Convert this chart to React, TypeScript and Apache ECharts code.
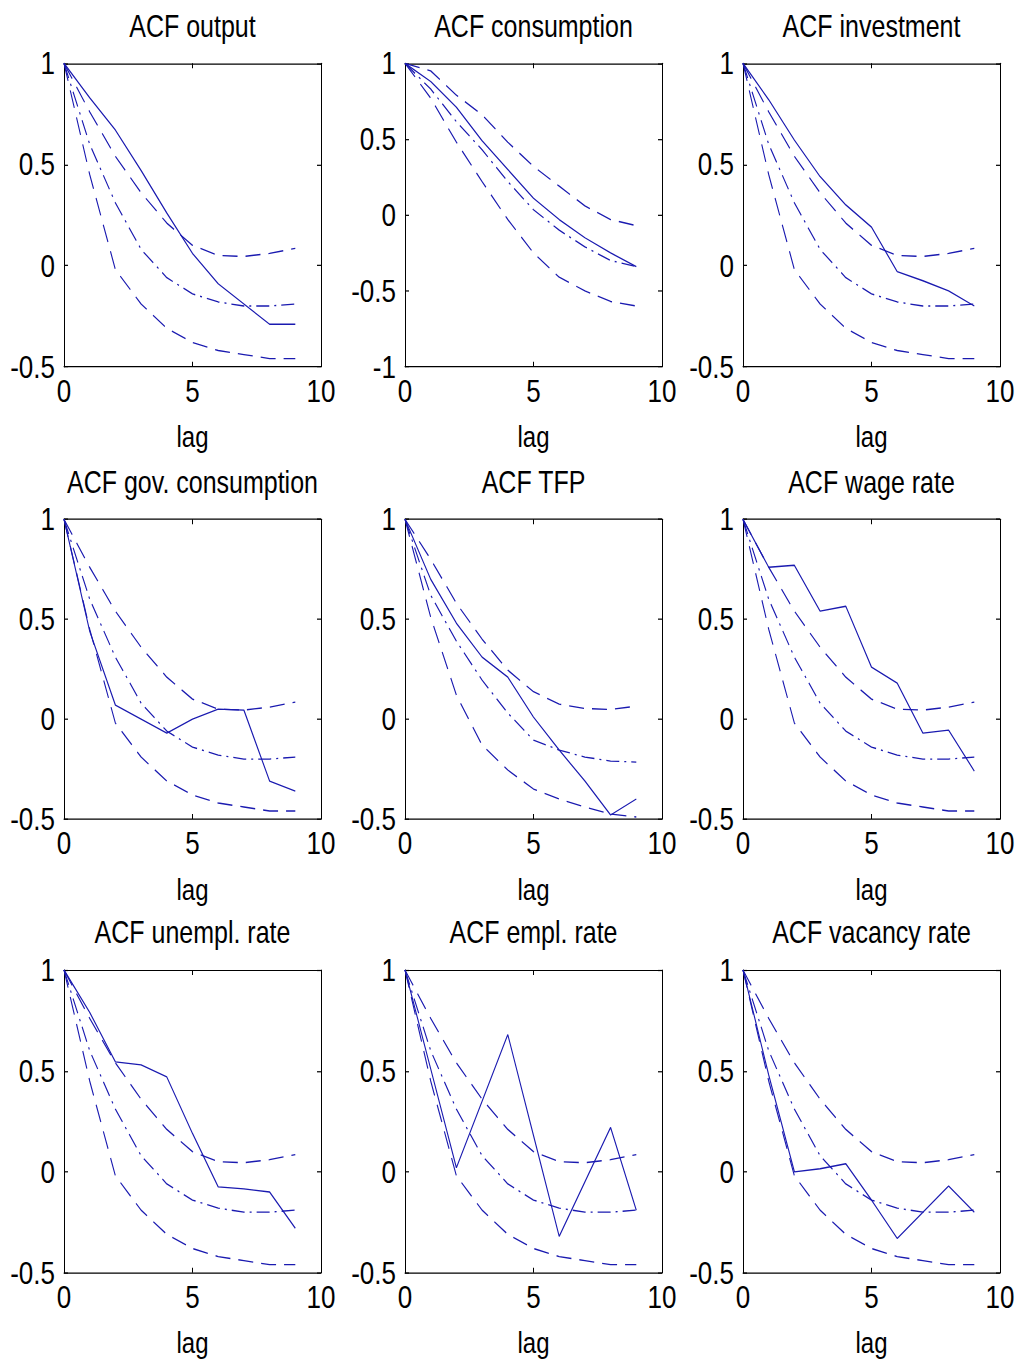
import React, { useEffect, useRef } from 'react';
import * as echarts from 'echarts';

const LAGS = [0, 1, 2, 3, 4, 5, 6, 7, 8, 9];
const X_TICKS = [0, 5, 10];
const Y_TICKS = [-0.5, 0, 0.5, 1];
const Y_TICKS_CONS = [-1, -0.5, 0, 0.5, 1];

const TITLES = [
  'ACF output', 'ACF consumption', 'ACF investment',
  'ACF gov. consumption', 'ACF TFP', 'ACF wage rate',
  'ACF unempl. rate', 'ACF empl. rate', 'ACF vacancy rate',
];

// data ACFs (solid)
const OUTPUT = [1, 0.83, 0.67, 0.47, 0.26, 0.06, -0.09, -0.19, -0.29, -0.29];
const CONSUMPTION = [1, 0.88, 0.71, 0.49, 0.30, 0.11, -0.03, -0.15, -0.25, -0.34];
const INVESTMENT = [1, 0.82, 0.62, 0.44, 0.30, 0.19, -0.03, -0.075, -0.125, -0.20];
const GOV = [1, 0.44, 0.07, 0.0, -0.07, 0.0, 0.05, 0.045, -0.31, -0.36];
const TFP = [1, 0.70, 0.48, 0.31, 0.21, 0.01, -0.155, -0.31, -0.48, -0.40];
const WAGE = [1, 0.76, 0.77, 0.54, 0.565, 0.26, 0.18, -0.07, -0.055, -0.26];
const UNEMPL = [1, 0.79, 0.545, 0.53, 0.47, 0.19, -0.075, -0.085, -0.10, -0.28];
const EMPL = [1, 0.51, 0.02, 0.35, 0.68, 0.18, -0.32, -0.05, 0.22, -0.19];
const VACANCY = [1, 0.48, 0.0, 0.015, 0.04, -0.14, -0.33, -0.2, -0.07, -0.2];

// model bands (dashed upper/lower, dash-dot median)
const UPPER = [1, 0.76, 0.54, 0.36, 0.21, 0.10, 0.05, 0.045, 0.06, 0.085];
const MEDIAN = [1, 0.6, 0.31, 0.08, -0.06, -0.14, -0.18, -0.2, -0.2, -0.19];
const LOWER = [1, 0.45, -0.02, -0.19, -0.31, -0.38, -0.42, -0.44, -0.46, -0.46];

const CONS_UPPER = [1, 0.95, 0.79, 0.66, 0.48, 0.32, 0.19, 0.06, -0.03, -0.07];
const CONS_MEDIAN = [1, 0.83, 0.615, 0.43, 0.22, 0.035, -0.10, -0.21, -0.30, -0.34];
const CONS_LOWER = [1, 0.77, 0.48, 0.22, -0.03, -0.25, -0.41, -0.50, -0.57, -0.60];

const TFP_UPPER = [1, 0.80, 0.58, 0.40, 0.245, 0.137, 0.075, 0.053, 0.048, 0.065];
const TFP_MEDIAN = [1, 0.62, 0.39, 0.195, 0.03, -0.105, -0.155, -0.19, -0.21, -0.215];
const TFP_LOWER = [1, 0.51, 0.12, -0.13, -0.255, -0.35, -0.40, -0.44, -0.475, -0.49];

const PANELS = [
  { solid: OUTPUT, up: UPPER, med: MEDIAN, lo: LOWER, ticks: Y_TICKS },
  { solid: CONSUMPTION, up: CONS_UPPER, med: CONS_MEDIAN, lo: CONS_LOWER, ticks: Y_TICKS_CONS },
  { solid: INVESTMENT, up: UPPER, med: MEDIAN, lo: LOWER, ticks: Y_TICKS },
  { solid: GOV, up: UPPER, med: MEDIAN, lo: LOWER, ticks: Y_TICKS },
  { solid: TFP, up: TFP_UPPER, med: TFP_MEDIAN, lo: TFP_LOWER, ticks: Y_TICKS },
  { solid: WAGE, up: UPPER, med: MEDIAN, lo: LOWER, ticks: Y_TICKS },
  { solid: UNEMPL, up: UPPER, med: MEDIAN, lo: LOWER, ticks: Y_TICKS },
  { solid: EMPL, up: UPPER, med: MEDIAN, lo: LOWER, ticks: Y_TICKS },
  { solid: VACANCY, up: UPPER, med: MEDIAN, lo: LOWER, ticks: Y_TICKS },
];

// The reference figure is stretched vertically; the chart is drawn in a
// shorter box and stretched with a CSS transform so its text is tall too.
const STRETCH = 1.22;
const PAGE_W = 1018;
const PAGE_H = 1364;
const COL_LEFT = [64, 405, 743];
const ROW_TOP = [63.3, 519.3, 970];
const BOX_W = 257;
const ROW_H = [303.4, 299.7, 302.7];

const FONT = '"Liberation Sans", Arial, sans-serif';
const FS_TICK = 26;
const FS_TITLE = 25;
const FS_NAME = 24;
const LINE = '#1a1ab0';

function pairs(v: number[]) {
  return LAGS.map((l, i) => [l, v[i]]);
}

export default function App() {
  const ref = useRef<HTMLDivElement>(null);
  useEffect(() => {
    if (!ref.current) return;
    const chart = echarts.init(ref.current, null, { renderer: 'svg' });
    const grid: any[] = [];
    const xAxis: any[] = [];
    const yAxis: any[] = [];
    const series: any[] = [];
    const graphic: any[] = [];
    const axisLine = { show: true, onZero: false, lineStyle: { color: '#000', width: 1 } };
    const axisTick = { show: true, inside: true, length: 4, lineStyle: { color: '#000', width: 1 } };
    PANELS.forEach((p, i) => {
      const r = Math.floor(i / 3);
      const c = i % 3;
      const left = COL_LEFT[c];
      const top = ROW_TOP[r] / STRETCH;
      const h = ROW_H[r] / STRETCH;
      grid.push({ left, top, width: BOX_W, height: h, containLabel: false, show: false });
      const xmin = X_TICKS[0];
      const xmax = X_TICKS[X_TICKS.length - 1];
      const xint = X_TICKS[1] - X_TICKS[0];
      const ymin = p.ticks[0];
      const ymax = p.ticks[p.ticks.length - 1];
      const yint = p.ticks[1] - p.ticks[0];
      xAxis.push({
        gridIndex: i, type: 'value', min: xmin, max: xmax, interval: xint, position: 'bottom',
        axisLine, axisTick, splitLine: { show: false },
        axisLabel: { color: '#000', fontSize: FS_TICK, fontFamily: FONT, margin: 7 },
        name: 'lag', nameLocation: 'middle', nameGap: 46,
        nameTextStyle: { color: '#000', fontSize: FS_NAME, fontFamily: FONT },
      });
      xAxis.push({
        gridIndex: i, type: 'value', min: xmin, max: xmax, interval: xint, position: 'top',
        axisLine, axisTick, splitLine: { show: false }, axisLabel: { show: false },
      });
      yAxis.push({
        gridIndex: i, type: 'value', min: ymin, max: ymax, interval: yint, position: 'left',
        axisLine, axisTick, splitLine: { show: false },
        axisLabel: { color: '#000', fontSize: FS_TICK, fontFamily: FONT, margin: 9 },
      });
      yAxis.push({
        gridIndex: i, type: 'value', min: ymin, max: ymax, interval: yint, position: 'right',
        axisLine, axisTick, splitLine: { show: false }, axisLabel: { show: false },
      });
      const base = {
        type: 'line', xAxisIndex: 2 * i, yAxisIndex: 2 * i, symbol: 'none', showSymbol: false,
        silent: true,
      };
      series.push({ ...base, data: pairs(p.up), lineStyle: { color: LINE, width: 1.1, type: [15, 8] } });
      series.push({ ...base, data: pairs(p.med), lineStyle: { color: LINE, width: 1.1, type: [13, 5, 2, 5] } });
      series.push({ ...base, data: pairs(p.lo), lineStyle: { color: LINE, width: 1.1, type: [15, 8] } });
      series.push({ ...base, data: pairs(p.solid), lineStyle: { color: LINE, width: 1.1, type: 'solid' } });
      graphic.push({
        type: 'text', x: left + BOX_W / 2, y: top - 30.3,
        style: {
          text: TITLES[i], textAlign: 'center', textVerticalAlign: 'middle',
          font: `${FS_TITLE}px ${FONT}`, fill: '#000',
        },
      });
    });
    chart.setOption({
      animation: false,
      backgroundColor: '#fff',
      grid, xAxis, yAxis, series, graphic,
    });
    return () => chart.dispose();
  }, []);
  return (
    <div style={{ position: 'absolute', left: 0, top: 0, width: PAGE_W, height: PAGE_H, background: '#fff', overflow: 'hidden' }}>
      <div
        ref={ref}
        style={{
          position: 'absolute', left: 0, top: 0, width: PAGE_W, height: PAGE_H / STRETCH,
          transform: `scaleY(${STRETCH})`, transformOrigin: '0 0',
        }}
      />
    </div>
  );
}
